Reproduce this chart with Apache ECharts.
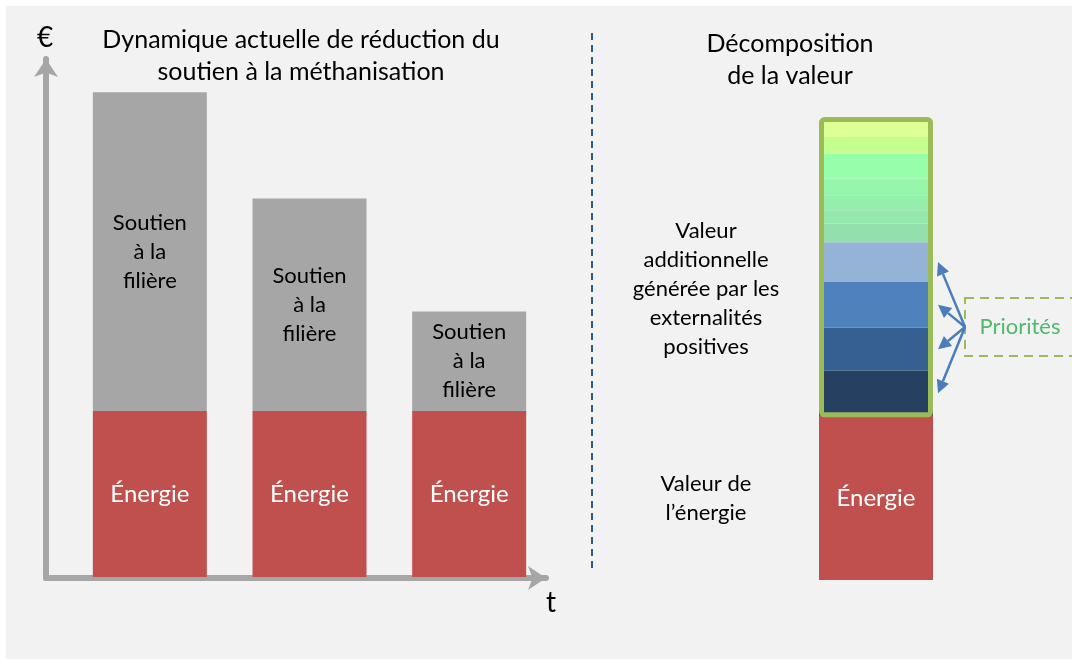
<!DOCTYPE html>
<html>
<head>
<meta charset="utf-8">
<script src="https://cdn.jsdelivr.net/npm/echarts@6/dist/echarts.min.js"></script>
<style>
  html, body { margin: 0; padding: 0; background: #fff; }
  #main { width: 1072px; height: 659px; }
</style>
</head>
<body>
<div id="main"></div>
<script>
// données (unités arbitraires, l'énergie = 100)
const periods = ['t1', 't2', 't3']
const energieLeft = [100, 100, 100]
const soutien = [192, 128, 60]
const energieRight = [99]
// externalités, du bas vers le haut
const blueValues = [27, 26, 27.5, 24]
const greenValues = [11.3, 8, 9, 10, 15, 10, 10.6]

const soutienLabel = 'Soutien\nà la\nfilière'
const energieLabel = 'Énergie'

// couleurs
const blueColors = ['#254061', '#366092', '#4f81bd', '#95b3d7']
const greenColors = ['#93e0ad', '#94e7ad', '#95eeac', '#96f6ab', '#97ffaa', '#c4ff8f', '#dcff96']
const FONT = 'Lato, "Open Sans", sans-serif'

let myChart = echarts.init(document.getElementById('main'))

let rightSeries = []
rightSeries.push({
  type: 'bar', xAxisIndex: 2, yAxisIndex: 2, stack: 'v', barWidth: 114, barGap: '-100%',
  itemStyle: { color: '#c0504d' },
  label: { show: true, position: 'inside', formatter: energieLabel, color: '#fff', fontSize: 24, fontFamily: FONT },
  data: energieRight
})
blueValues.forEach((v, i) => {
  rightSeries.push({
    type: 'bar', xAxisIndex: 2, yAxisIndex: 2, stack: 'v', barWidth: 114, barGap: '-100%',
    itemStyle: { color: blueColors[i] }, data: [v]
  })
})
greenValues.forEach((v, i) => {
  rightSeries.push({
    type: 'bar', xAxisIndex: 2, yAxisIndex: 2, stack: 'v', barWidth: 114, barGap: '-100%',
    itemStyle: { color: greenColors[i] }, data: [v]
  })
})
let extTotal = blueValues.concat(greenValues).reduce((a, b) => a + b, 0)
// cadre vert autour des externalités
rightSeries.push({
  type: 'bar', xAxisIndex: 2, yAxisIndex: 2, stack: 'frame', barWidth: 114, barGap: '-100%',
  itemStyle: { color: 'transparent' }, data: [energieRight[0] - 1], z: 3
})
rightSeries.push({
  type: 'bar', xAxisIndex: 2, yAxisIndex: 2, stack: 'frame', barWidth: 114, barGap: '-100%',
  itemStyle: { color: 'transparent', borderColor: '#9bbb59', borderWidth: 5, borderRadius: 3 },
  data: [extTotal + 2.5], z: 3
})

function txt (text, x, y, size, lh) {
  return {
    type: 'text', x: x, y: y, silent: true,
    style: { text: text, align: 'center', verticalAlign: 'middle', fontSize: size, fontFamily: FONT, fill: '#000', lineHeight: lh || 29 }
  }
}

let baseGraphic = [
  { type: 'rect', shape: { x: 6, y: 6, width: 1066, height: 653 }, style: { fill: '#f2f2f2' }, z: -10, silent: true },
  txt('Dynamique actuelle de réduction du\nsoutien à la méthanisation', 301, 56, 25, 32),
  txt('Décomposition\nde la valeur', 790, 60, 25, 32),
  txt('€', 45, 38, 28),
  txt('t', 551, 603, 28),
  txt('Valeur\nadditionnelle\ngénérée par les\nexternalités\npositives', 706, 289, 22),
  txt('Valeur de\nl’énergie', 706, 498, 22),
  { type: 'line', shape: { x1: 592, y1: 33, x2: 592, y2: 572 }, style: { stroke: '#2e5a8c', lineWidth: 2, lineDash: [7, 5] }, silent: true },
  { type: 'rect', shape: { x: 965, y: 298, width: 140, height: 58 }, style: { fill: 'none', stroke: '#9bbb59', lineWidth: 2, lineDash: [9, 6] }, silent: true },
  { type: 'text', x: 1020, y: 327, silent: true, style: { text: 'Priorités', align: 'center', verticalAlign: 'middle', fontSize: 22, fontFamily: FONT, fill: '#4fb96c' } }
]

let option = {
  backgroundColor: '#ffffff',
  animation: false,
  grid: [
    { left: 70, top: 79, width: 479, height: 498 },
    { left: 46, top: 59, width: 500, height: 519 },
    { left: 776, top: 82, width: 200, height: 498 }
  ],
  xAxis: [
    { gridIndex: 0, type: 'category', data: periods, show: false },
    {
      gridIndex: 1, type: 'value', min: 0, max: 1,
      axisLine: { show: true, symbol: ['none', 'arrow'], symbolSize: [18, 18], lineStyle: { color: '#a6a6a6', width: 6 } },
      axisTick: { show: false }, axisLabel: { show: false }, splitLine: { show: false }
    },
    { gridIndex: 2, type: 'category', data: ['valeur'], show: false }
  ],
  yAxis: [
    { gridIndex: 0, type: 'value', min: 0, max: 300, show: false },
    {
      gridIndex: 1, type: 'value', min: 0, max: 1,
      axisLine: { show: true, symbol: ['none', 'arrow'], symbolSize: [18, 18], lineStyle: { color: '#a6a6a6', width: 6 } },
      axisTick: { show: false }, axisLabel: { show: false }, splitLine: { show: false }
    },
    { gridIndex: 2, type: 'value', min: 0, max: 300, show: false }
  ],
  series: [{
    name: 'Énergie', type: 'bar', stack: 'a', barWidth: 114,
    itemStyle: { color: '#c0504d' },
    label: { show: true, position: 'inside', formatter: energieLabel, color: '#fff', fontSize: 24, fontFamily: FONT },
    data: energieLeft
  }, {
    name: 'Soutien', type: 'bar', stack: 'a', barWidth: 114,
    itemStyle: { color: '#a6a6a6' },
    label: { show: true, position: 'inside', formatter: soutienLabel, color: '#000', fontSize: 22, lineHeight: 29, fontFamily: FONT },
    data: soutien
  }].concat(rightSeries),
  graphic: baseGraphic
}
myChart.setOption(option)

// flèches "Priorités" vers chaque segment bleu
let origin = [965, 327]
let arrows = []
let cum = energieRight[0]
blueValues.forEach((v) => {
  let p = myChart.convertToPixel({ gridIndex: 2 }, [0, cum + v / 2])
  cum += v
  let tip = [938, p[1]]
  let dx = tip[0] - origin[0]
  let dy = tip[1] - origin[1]
  let len = Math.sqrt(dx * dx + dy * dy)
  let ux = dx / len
  let uy = dy / len
  let hl = 13
  let hw = 6.5
  let bx = tip[0] - ux * hl
  let by = tip[1] - uy * hl
  arrows.push({ type: 'line', silent: true, shape: { x1: origin[0], y1: origin[1], x2: bx, y2: by }, style: { stroke: '#4a7ebb', lineWidth: 2.5 } })
  arrows.push({ type: 'polygon', silent: true, shape: { points: [tip, [bx - uy * hw, by + ux * hw], [bx + uy * hw, by - ux * hw]] }, style: { fill: '#4a7ebb' } })
})
myChart.setOption({ graphic: baseGraphic.concat(arrows) })
</script>
</body>
</html>
